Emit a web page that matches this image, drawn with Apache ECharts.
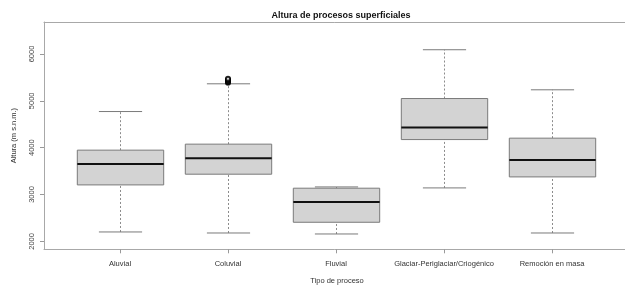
<!DOCTYPE html>
<html>
<head>
<meta charset="utf-8">
<script src="https://cdn.jsdelivr.net/npm/echarts@6/dist/echarts.min.js"></script>
<style>
  html, body { margin: 0; padding: 0; background: #fff; }
  #chart { width: 625px; height: 286px; }
</style>
</head>
<body>
<div id="chart"></div>
<script>
// data
var categories = ['Aluvial', 'Coluvial', 'Fluvial', 'Glaciar-Periglaciar/Criogénico', 'Remoción en masa']
var lowerWhisker = [2201, 2179, 2158, 3141, 2179]
var q1 = [3205, 3434, 2408, 4173, 3376]
var median = [3654, 3776, 2842, 4429, 3739]
var q3 = [3947, 4075, 3135, 5049, 4203]
var upperWhisker = [4771, 5363, 3162, 6090, 5235]
var outlierCategory = [1, 1, 1, 1, 1, 1]
var outlierValues = [5385, 5400, 5420, 5440, 5455, 5470]
var yTicks = [2000, 3000, 4000, 5000, 6000]

var FONT = 'Liberation Sans, Arial, sans-serif'
var Y_MIN = 1831
var Y_MAX = 6682
var FRAME = { show: true, lineStyle: { color: '#a8a8a8', width: 1 } }

var boxData = categories.map(function (c, i) {
  return [i, lowerWhisker[i], q1[i], median[i], q3[i], upperWhisker[i]]
})
var outlierData = outlierValues.map(function (v, i) {
  return [outlierCategory[i], v]
})

function renderBox (params, api) {
  var x = api.value(0)
  var band = api.size([1, 0])[0]
  var half = band * 0.4
  var cap = band * 0.2
  var low = api.coord([x, api.value(1)])
  var b1 = api.coord([x, api.value(2)])
  var med = api.coord([x, api.value(3)])
  var b3 = api.coord([x, api.value(4)])
  var up = api.coord([x, api.value(5)])
  var cx = Math.round(low[0]) + 0.5
  var grey = '#7a7a7a'
  var dash = { stroke: '#8c8c8c', lineWidth: 1, lineDash: [2, 2] }
  var solid = { stroke: grey, lineWidth: 1 }
  return {
    type: 'group',
    children: [
      { type: 'line', shape: { x1: cx, y1: low[1], x2: cx, y2: b1[1] }, style: dash },
      { type: 'line', shape: { x1: cx, y1: b3[1], x2: cx, y2: up[1] }, style: dash },
      { type: 'line', shape: { x1: cx - cap, y1: low[1], x2: cx + cap, y2: low[1] }, style: solid },
      { type: 'line', shape: { x1: cx - cap, y1: up[1], x2: cx + cap, y2: up[1] }, style: solid },
      {
        type: 'rect',
        shape: { x: cx - half, y: b3[1], width: half * 2, height: b1[1] - b3[1] },
        style: { fill: '#d3d3d3', stroke: grey, lineWidth: 1 }
      },
      { type: 'line', shape: { x1: cx - half, y1: med[1], x2: cx + half, y2: med[1] }, style: { stroke: '#111', lineWidth: 2 } }
    ]
  }
}

var myChart = echarts.init(document.getElementById('chart'))
var option = {
  animation: false,
  textStyle: { fontFamily: FONT },
  title: {
    text: 'Altura de procesos superficiales',
    left: 336,
    top: 6,
    textAlign: 'center',
    textStyle: { fontSize: 9, fontWeight: 'bold', color: '#111', fontFamily: FONT }
  },
  grid: [
    { left: 44, top: 22, width: 586, height: 227.3, outerBoundsMode: 'none', containLabel: false },
    { left: 66, top: 22, width: 540, height: 227.3, outerBoundsMode: 'none', containLabel: false }
  ],
  xAxis: [
    {
      gridIndex: 0,
      type: 'value',
      position: 'bottom',
      min: 0,
      max: 1,
      name: 'Tipo de proceso',
      nameLocation: 'middle',
      nameGap: 28,
      nameTextStyle: { fontSize: 7.5, color: '#333', fontFamily: FONT },
      axisLine: FRAME,
      axisTick: { show: false },
      axisLabel: { show: false },
      splitLine: { show: false }
    },
    {
      gridIndex: 1,
      type: 'category',
      data: categories,
      axisLine: { show: false },
      axisTick: { show: true, alignWithLabel: true, length: 4, lineStyle: { color: '#999' } },
      axisLabel: { fontSize: 7.5, color: '#333', margin: 11, interval: 0, fontFamily: FONT },
      splitLine: { show: false }
    },
    {
      gridIndex: 0,
      type: 'value',
      position: 'top',
      min: 0,
      max: 1,
      axisLine: FRAME,
      axisTick: { show: false },
      axisLabel: { show: false },
      splitLine: { show: false }
    }
  ],
  yAxis: [
    {
      gridIndex: 0,
      type: 'value',
      min: Y_MIN,
      max: Y_MAX,
      name: 'Altura (m s.n.m.)',
      nameLocation: 'middle',
      nameRotate: 90,
      nameGap: 26,
      nameTextStyle: { fontSize: 7.5, color: '#333', fontFamily: FONT },
      axisLine: FRAME,
      axisTick: { show: true, length: 4, customValues: yTicks, lineStyle: { color: '#999' } },
      axisLabel: {
        rotate: 90,
        fontSize: 7.5,
        color: '#444',
        margin: 8,
        customValues: yTicks,
        fontFamily: FONT,
        formatter: function (v) { return String(v) }
      },
      splitLine: { show: false }
    },
    {
      gridIndex: 1,
      type: 'value',
      min: Y_MIN,
      max: Y_MAX,
      show: false
    }
  ],
  series: [
    {
      type: 'custom',
      xAxisIndex: 1,
      yAxisIndex: 1,
      renderItem: renderBox,
      encode: { x: 0, y: [1, 2, 3, 4, 5] },
      data: boxData
    },
    {
      type: 'scatter',
      xAxisIndex: 1,
      yAxisIndex: 1,
      symbol: 'emptyCircle',
      symbolSize: 4,
      itemStyle: { color: '#000', borderColor: '#000', borderWidth: 1 },
      data: outlierData
    }
  ]
}
myChart.setOption(option)
</script>
</body>
</html>
